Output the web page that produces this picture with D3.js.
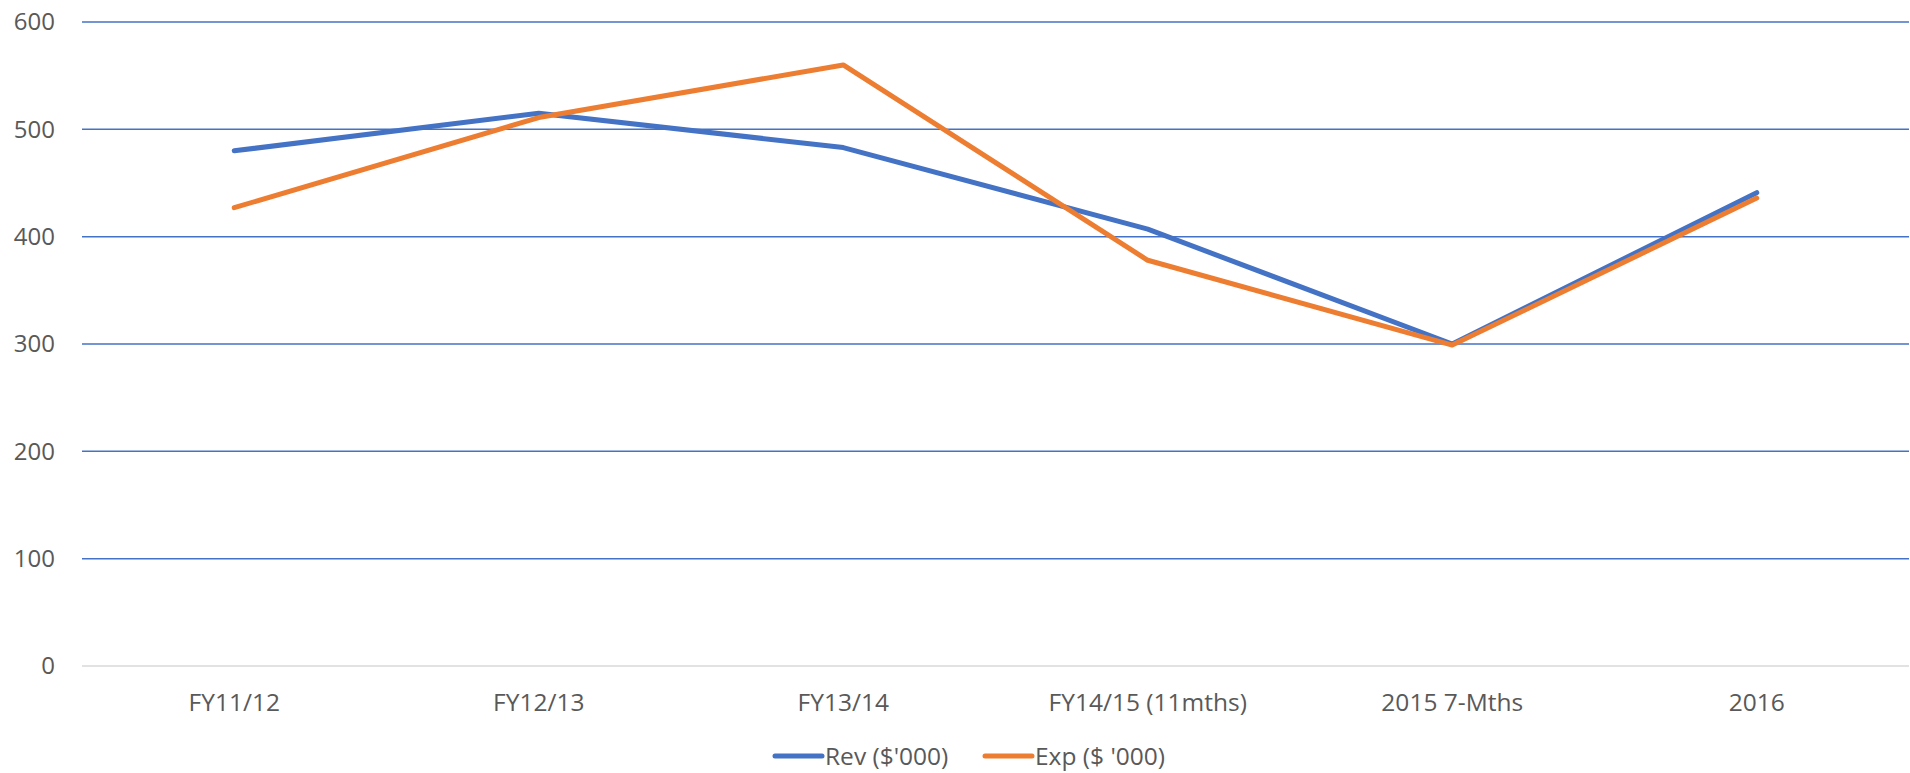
<!DOCTYPE html>
<html>
<head>
<meta charset="utf-8">
<script src="https://cdn.jsdelivr.net/npm/d3@7"></script>
<style>
  html, body { margin: 0; padding: 0; background: #fff; }
  #mainbox { width: 1910px; height: 773px; }
  text { font-family: "Open Sans", sans-serif; fill: #595959; }
</style>
</head>
<body>
<div id="mainbox"></div>
<script>
const categories = ['FY11/12', 'FY12/13', 'FY13/14', 'FY14/15 (11mths)', '2015 7-Mths', '2016'];
const revValues = [480, 515, 483, 407, 300, 441];
const expValues = [427, 511, 560, 378, 299, 436];
const seriesNames = ["Rev ($'000)", "Exp ($ '000)"];
const yTicks = [0, 100, 200, 300, 400, 500, 600];

const colors = ['#4472C4', '#ED7D31'];

const w_svg = 1910, h_svg = 773;
const margin = {t: 22, r: 1, b: 107, l: 82};
const w = w_svg - margin.l - margin.r,
      h = h_svg - margin.t - margin.b;

let svgMain = d3.select('#mainbox')
  .append('svg')
  .attr('width', w_svg)
  .attr('height', h_svg);

let plot = svgMain.append('g')
  .attr('transform', `translate(${margin.l},${margin.t})`);

const scaleX = d3.scaleBand().domain(categories).range([0, w]);
const scaleY = d3.scaleLinear().domain([0, 600]).range([h, 0]);

// gridlines
plot.selectAll('.grid')
  .data(yTicks)
  .enter()
  .append('line')
  .attr('class', 'grid')
  .attr('x1', 0)
  .attr('x2', w)
  .attr('y1', d => scaleY(d))
  .attr('y2', d => scaleY(d))
  .attr('stroke', d => d === 0 ? '#d9d9d9' : '#4472C4')
  .attr('stroke-width', 1.5);

// y labels
plot.selectAll('.ylab')
  .data(yTicks)
  .enter()
  .append('text')
  .attr('class', 'ylab')
  .attr('x', -27)
  .attr('y', d => scaleY(d))
  .attr('dy', '0.35em')
  .attr('text-anchor', 'end')
  .style('font-size', '24px')
  .text(d => d);

// x labels
plot.selectAll('.xlab')
  .data(categories)
  .enter()
  .append('text')
  .attr('class', 'xlab')
  .attr('x', d => scaleX(d) + scaleX.bandwidth() / 2)
  .attr('y', h + 36)
  .attr('dy', '0.35em')
  .attr('text-anchor', 'middle')
  .style('font-size', '24.5px')
  .text(d => d);

const line = d3.line()
  .x((d, i) => scaleX(categories[i]) + scaleX.bandwidth() / 2)
  .y(d => scaleY(d));

[revValues, expValues].forEach((vals, i) => {
  plot.append('path')
    .datum(vals)
    .attr('d', line)
    .attr('fill', 'none')
    .attr('stroke', colors[i])
    .attr('stroke-width', 5)
    .attr('stroke-linecap', 'round')
    .attr('stroke-linejoin', 'round');
});

// legend
const legendY = 756;
const legendX = [775, 985];
const legend = svgMain.selectAll('.legend')
  .data(seriesNames)
  .enter()
  .append('g')
  .attr('class', 'legend')
  .attr('transform', (d, i) => `translate(${legendX[i]},${legendY})`);

legend.append('line')
  .attr('x1', 0).attr('x2', 47)
  .attr('stroke', (d, i) => colors[i])
  .attr('stroke-width', 5)
  .attr('stroke-linecap', 'round');

legend.append('text')
  .attr('x', 50)
  .attr('dy', '0.35em')
  .style('font-size', '24.5px')
  .text(d => d);
</script>
</body>
</html>
